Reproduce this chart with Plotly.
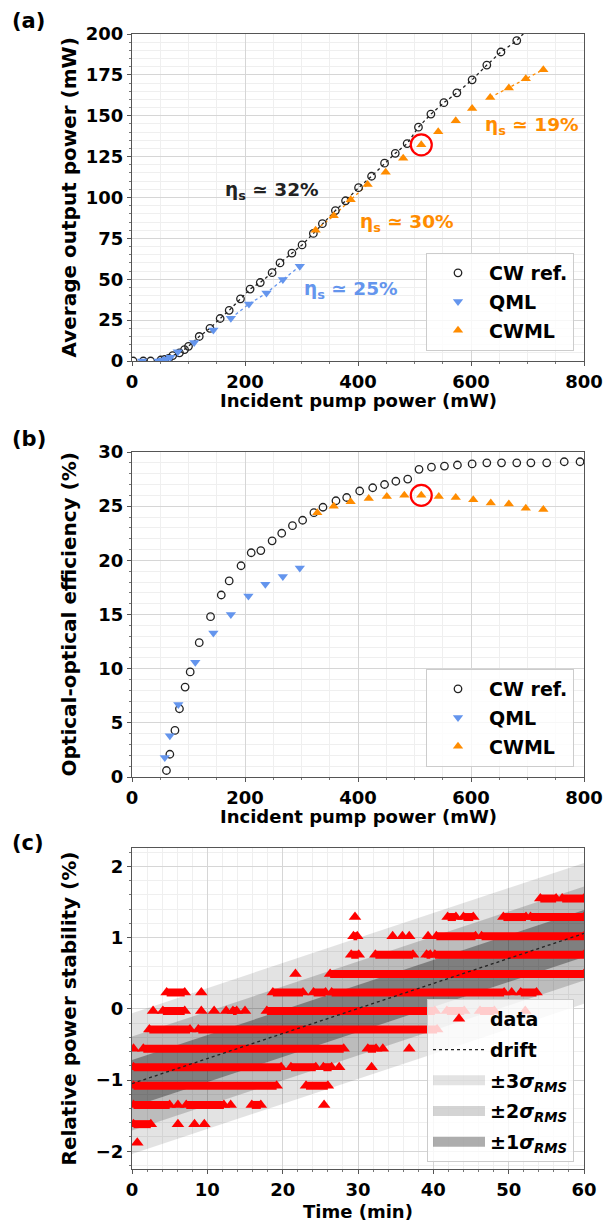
import plotly.graph_objects as go

# ---------------- Panel (a): average output power ----------------
cw_pump_a = [2, 20, 33, 51, 58, 65, 72, 84, 93, 100, 119, 138, 156, 172, 192, 209, 227, 248,
             262, 283, 301, 321, 337, 360, 378, 401, 424, 447, 466, 487, 507, 529, 552, 575,
             602, 628, 653, 681, 706, 734, 765, 793]
cw_out_a = [0, 0, 0, 0.6, 1, 1.6, 3.3, 5, 7, 9, 15, 20, 26, 31, 38, 44, 48, 54,
            60, 66, 71, 78, 84, 92, 98, 106, 113, 121, 127, 133, 143, 151, 158, 164,
            172, 181, 189, 196, 205, 213, 222, 231]
qml_pump_a = [18, 47, 54, 61, 68, 81, 110, 144, 175, 207, 238, 267, 297]
qml_out_a = [0, 0, 0.4, 1.2, 2.3, 5.7, 11.3, 19, 26.2, 34.8, 41.6, 49.8, 58]
cwml_pump_a = [325, 357, 387, 417, 449, 480, 512, 542, 573, 602, 634, 667, 697, 728]
cwml_out_a = [80, 88.8, 98.6, 108, 115.5, 124, 132.2, 140.2, 147, 154.5, 161.2, 167, 172.7, 178.2]
slope_labels_a = ["η<sub>s</sub> ≃ 32%", "η<sub>s</sub> ≃ 25%", "η<sub>s</sub> ≃ 30%", "η<sub>s</sub> ≃ 19%"]

# ---------------- Panel (b): optical-optical efficiency ----------------
cw_pump_b = [61, 67, 76, 84, 94, 103, 119, 139, 158, 172, 193, 211, 228, 248, 265, 284, 302,
             322, 338, 361, 380, 403, 426, 447, 467, 488, 508, 530, 553, 576, 602, 628, 654,
             681, 706, 734, 765, 793]
cw_eff_b = [0.6, 2.1, 4.3, 6.3, 8.3, 9.7, 12.4, 14.8, 16.8, 18.1, 19.5, 20.7, 20.9, 21.8, 22.5,
            23.2, 23.7, 24.4, 24.9, 25.5, 25.8, 26.4, 26.7, 27.0, 27.3, 27.5, 28.4, 28.6, 28.7,
            28.8, 28.9, 29.0, 29.0, 29.0, 29.0, 29.0, 29.1, 29.1]
qml_pump_b = [58, 67, 82, 112, 144, 175, 206, 236, 267, 297]
qml_eff_b = [1.8, 3.8, 6.7, 10.6, 13.3, 15.0, 16.7, 17.8, 18.5, 19.3]
cwml_pump_b = [328, 357, 387, 419, 451, 482, 512, 543, 573, 604, 635, 667, 697, 728]
cwml_eff_b = [24.4, 25.0, 25.4, 25.7, 25.9, 26.0, 26.0, 25.9, 25.8, 25.6, 25.3, 25.2, 24.8, 24.7]
highlight_idx = 6  # operating point circled in red

# ---------------- Panel (c): relative power stability ----------------
levels_c = [1.55, 1.29, 1.02, 0.76, 0.49, 0.23, -0.03, -0.29, -0.56, -0.82, -1.08, -1.35, -1.62, -1.88]
runs_p155 = [(54.2, 56.3), (57.1, 60.0)]
runs_p129 = [(29.6, 29.6), (41.9, 43.0), (44.0, 45.3), (49.3, 52.3), (52.9, 60.0)]
runs_p102 = [(29.4, 29.9), (34.6, 34.6), (35.9, 35.9), (36.8, 36.8), (39.3, 39.3), (40.4, 45.6), (46.4, 60.0)]
runs_p076 = [(29.1, 30.1), (32.3, 37.3), (39.1, 39.6), (40.2, 60.0)]
runs_p049 = [(21.7, 21.7), (26.3, 60.0)]
runs_p023 = [(4.6, 7.0), (9.2, 9.2), (18.7, 22.7), (24.1, 25.7), (26.5, 49.4), (50.4, 50.4), (51.6, 53.7)]
runs_m003 = [(2.8, 2.8), (4.1, 7.0), (9.2, 9.2), (10.9, 10.9), (12.5, 12.5), (13.4, 13.9), (15.0, 15.0),
             (17.9, 40.2), (41.8, 44.1), (46.2, 48.1), (52.2, 52.2)]
runs_m029 = [(2.3, 7.7), (8.8, 40.5)]
runs_m056 = [(0.2, 0.2), (1.5, 28.1), (31.3, 32.4), (33.3, 33.3), (36.8, 36.8)]
runs_m082 = [(0.2, 19.8), (21.1, 24.4), (25.4, 26.5), (27.5, 27.5), (31.8, 31.8)]
runs_m108 = [(0.2, 19.2), (23.1, 26.0)]
runs_m135 = [(0.2, 5.0), (6.1, 6.1), (7.2, 12.2), (13.1, 13.1), (15.9, 17.1), (25.5, 25.5)]
runs_m162 = [(0.2, 2.5), (6.1, 6.1), (8.3, 8.3), (9.6, 9.6)]
runs_m188 = [(0.7, 0.7)]
drift_t = [0, 60]
drift_y = [-1.05, 1.06]
sigma_rms = 0.33

all_runs = [runs_p155, runs_p129, runs_p102, runs_p076, runs_p049, runs_p023, runs_m003,
            runs_m029, runs_m056, runs_m082, runs_m108, runs_m135, runs_m162, runs_m188]

# ---------------- geometry (screen px; page body has an 8 px margin) ----------------
OFF = 8
W, H = 605, 1216
FONT = "DejaVu Sans"
BLACK = "#222222"
BLUE = "#6495ED"
ORANGE = "#FF8C00"
XL, XR = 132, 584
frames = {"a": (34, 361), "b": (452, 777), "c": (848, 1169)}

def px(x):
    return (x - OFF) / W

def py(y):
    return 1 - (y - OFF) / H

def ydom(t, b):
    return [py(b), py(t)]

fig = go.Figure()

# ---- (a) dotted guide lines
fig.add_trace(go.Scatter(x=cw_pump_a[5:], y=cw_out_a[5:], mode="lines", showlegend=False,
                         line=dict(color=BLACK, width=1.3, dash="dot"), xaxis="x", yaxis="y"))
fig.add_trace(go.Scatter(x=qml_pump_a[8:], y=qml_out_a[8:], mode="lines", showlegend=False,
                         line=dict(color=BLUE, width=1.3, dash="dot"), xaxis="x", yaxis="y"))
fig.add_trace(go.Scatter(x=cwml_pump_a[:4], y=cwml_out_a[:4], mode="lines", showlegend=False,
                         line=dict(color=ORANGE, width=1.3, dash="dot"), xaxis="x", yaxis="y"))
fig.add_trace(go.Scatter(x=cwml_pump_a[10:], y=cwml_out_a[10:], mode="lines", showlegend=False,
                         line=dict(color=ORANGE, width=1.3, dash="dot"), xaxis="x", yaxis="y"))

def add_series(pxs, pys, xa, ya, leg):
    fig.add_trace(go.Scatter(x=pxs[0], y=pys[0], mode="markers", name="CW ref.", legend=leg,
                             legendgroup=leg + "1",
                             marker=dict(symbol="circle-open", size=7.5, color=BLACK, line=dict(width=1.3)),
                             xaxis=xa, yaxis=ya))
    fig.add_trace(go.Scatter(x=pxs[1], y=pys[1], mode="markers", name="QML", legend=leg,
                             legendgroup=leg + "2",
                             marker=dict(symbol="triangle-down", size=9, color=BLUE),
                             xaxis=xa, yaxis=ya))
    fig.add_trace(go.Scatter(x=pxs[2], y=pys[2], mode="markers", name="CWML", legend=leg,
                             legendgroup=leg + "3",
                             marker=dict(symbol="triangle-up", size=9, color=ORANGE),
                             xaxis=xa, yaxis=ya))

add_series([cw_pump_a, qml_pump_a, cwml_pump_a], [cw_out_a, qml_out_a, cwml_out_a], "x", "y", "legend")
fig.add_trace(go.Scatter(x=[cwml_pump_a[highlight_idx]], y=[cwml_out_a[highlight_idx]], mode="markers",
                         showlegend=False, marker=dict(symbol="circle-open", size=21, color="red",
                                                       line=dict(width=2.2)), xaxis="x", yaxis="y"))

# ---- (b)
add_series([cw_pump_b, qml_pump_b, cwml_pump_b], [cw_eff_b, qml_eff_b, cwml_eff_b], "x2", "y2", "legend2")
fig.add_trace(go.Scatter(x=[cwml_pump_b[highlight_idx]], y=[cwml_eff_b[highlight_idx]], mode="markers",
                         showlegend=False, marker=dict(symbol="circle-open", size=21, color="red",
                                                       line=dict(width=2.2)), xaxis="x2", yaxis="y2"))

# ---- (c) sigma bands
band_fill = {3: "rgba(0,0,0,0.11)", 2: "rgba(0,0,0,0.17)", 1: "rgba(0,0,0,0.32)"}
for k in [3, 2, 1]:
    up = [d + k * sigma_rms for d in drift_y]
    lo = [d - k * sigma_rms for d in drift_y]
    fig.add_trace(go.Scatter(x=drift_t + drift_t[::-1], y=up + lo[::-1], fill="toself", mode="lines",
                             line=dict(width=0), fillcolor=band_fill[k], showlegend=False,
                             xaxis="x3", yaxis="y3"))

# data (quantised levels; consecutive samples drawn as runs)
bx, by, mx, my = [], [], [], []
for lev, runs in zip(levels_c, all_runs):
    for s, e in runs:
        bx += [s, e, None]
        by += [lev, lev, None]
        mx += [s, e] if e > s else [s]
        my += [lev, lev] if e > s else [lev]
fig.add_trace(go.Scatter(x=bx, y=by, mode="lines", showlegend=False,
                         line=dict(color="red", width=8), xaxis="x3", yaxis="y3"))
fig.add_trace(go.Scatter(x=mx, y=my, mode="markers", name="data", legend="legend3", legendgroup="c0",
                         legendrank=1, marker=dict(symbol="triangle-up", size=11, color="red"),
                         xaxis="x3", yaxis="y3"))
fig.add_trace(go.Scatter(x=drift_t, y=drift_y, mode="lines", name="drift", legend="legend3",
                         legendgroup="cd", legendrank=2,
                         line=dict(color=BLACK, width=1.3, dash="dot"), xaxis="x3", yaxis="y3"))
# legend patches for the bands
for k, rank in [(3, 3), (2, 4), (1, 5)]:
    fig.add_trace(go.Scatter(x=[None], y=[None], mode="lines", name=f"±{k}<i>σ</i><sub><i>RMS</i></sub>",
                             legend="legend3", legendgroup=f"c{k}", legendrank=rank,
                             line=dict(color=band_fill[k], width=15), xaxis="x3", yaxis="y3"))

# ---------------- axes ----------------
tickfont = dict(family=FONT, size=18, color="black", weight="bold")

def axis(dom, rng, dtick, minor_dtick, anchor, **kw):
    d = dict(domain=dom, range=rng, dtick=dtick, tick0=0, anchor=anchor,
             showline=True, linecolor="#555555", linewidth=1.2, mirror=True,
             ticks="outside", ticklen=4, tickwidth=1.2, tickcolor="#555555",
             showgrid=True, gridcolor="#d6d6d6", gridwidth=1, zeroline=False,
             tickfont=tickfont,
             minor=dict(dtick=minor_dtick, tick0=0, ticks="outside", ticklen=2, tickcolor="#777777",
                        showgrid=True, gridcolor="#efefef", gridwidth=1),
             automargin=False)
    d.update(kw)
    return d

xdom = [px(XL), px(XR)]
fig.update_layout(
    width=W, height=H, margin=dict(l=0, r=0, t=0, b=0),
    paper_bgcolor="white", plot_bgcolor="white",
    font=dict(family=FONT, color="black"),
    xaxis=axis(xdom, [0, 800], 200, 50, "y"),
    yaxis=axis(ydom(*frames["a"]), [0, 200], 25, 5, "x"),
    xaxis2=axis(xdom, [0, 800], 200, 50, "y2"),
    yaxis2=axis(ydom(*frames["b"]), [0, 30], 5, 1, "x2"),
    xaxis3=axis(xdom, [0, 60], 10, 2, "y3"),
    yaxis3=axis(ydom(*frames["c"]), [-2.25, 2.26], 1, 0.2, "x3",
                tickvals=[-2, -1, 0, 1, 2], ticktext=["−2", "−1", "0", "1", "2"]),
)

leg_common = dict(xanchor="right", yanchor="bottom", bgcolor="rgba(255,255,255,0.8)",
                  bordercolor="#cccccc", borderwidth=1,
                  font=dict(family=FONT, size=19, color="black", weight="bold"),
                  tracegroupgap=1, itemwidth=52)
fig.update_layout(
    legend=dict(x=px(574), y=py(351), **leg_common),
    legend2=dict(x=px(574), y=py(767), **leg_common),
    legend3=dict(x=px(574), y=py(1162), **dict(leg_common, tracegroupgap=3)),
)

# axis titles
xmid = (XL + XR) / 2
for txt, yc in [("Incident pump power (mW)", 400), ("Incident pump power (mW)", 816), ("Time (min)", 1211)]:
    fig.add_annotation(x=px(xmid), y=py(yc), xref="paper", yref="paper", text=txt, showarrow=False,
                       xanchor="center", yanchor="middle",
                       font=dict(family=FONT, size=18, color="black", weight="bold"))
for txt, key in [("Average output power (mW)", "a"), ("Optical-optical efficiency (%)", "b"),
                 ("Relative power stability (%)", "c")]:
    t, b = frames[key]
    fig.add_annotation(x=px(68), y=py((t + b) / 2), xref="paper", yref="paper", text=txt,
                       showarrow=False, textangle=-90, xanchor="center", yanchor="middle",
                       font=dict(family=FONT, size=20, color="black", weight="bold"))

# slope annotations for (a)
ann_pos = [(248, 104, BLACK), (387, 43.6, BLUE), (487, 84.6, ORANGE), (708, 143.5, ORANGE)]
for txt, (ax_, ay_, col) in zip(slope_labels_a, ann_pos):
    fig.add_annotation(x=ax_, y=ay_, xref="x", yref="y", text=txt, showarrow=False,
                       font=dict(family=FONT, size=18.5, color=col, weight="bold"))

for lab, yc in [("(a)", 21), ("(b)", 439), ("(c)", 843)]:
    fig.add_annotation(x=px(10), y=py(yc), xref="paper", yref="paper", text=lab, showarrow=False,
                       xanchor="left", yanchor="middle",
                       font=dict(family=FONT, size=21, color="black", weight="bold"))

fig.write_html("out.html")
